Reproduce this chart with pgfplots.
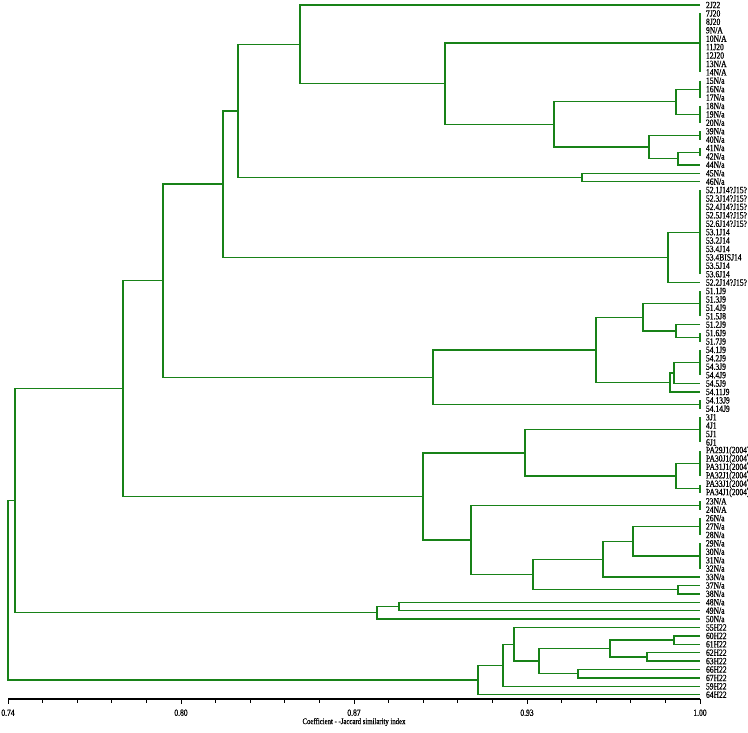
\documentclass[border=0pt]{standalone}
\usepackage{fontspec}
\setmainfont{Liberation Serif}
\newfontfamily\labfont[FakeStretch=0.8,FakeBold=0.8]{Liberation Serif}
\usepackage{pgfplots}
\pgfplotsset{compat=1.18}
\definecolor{dg}{RGB}{24,130,24}
\begin{document}
\begin{tikzpicture}
\begin{axis}[
  at={(0,0)}, anchor=south west,
  scale only axis, width=692bp, height=699bp,
  xmin=0.74, xmax=1.00, ymin=-82.5, ymax=0.6,
  clip=false,
  axis x line*=bottom, axis y line*=right,
  x axis line style={line width=1.2bp},
  y axis line style={draw=none},
  xtick={0.74,0.805,0.87,0.935,1.00},
  xticklabels={0.74,0.80,0.87,0.93,1.00},
  minor x tick num=4,
  tick align=outside,
  major tick length=5bp, minor tick length=4bp,
  x tick style={black, line width=1bp},
  xticklabel style={font=\labfont\fontsize{9.5}{9.5}\selectfont, yshift=-2bp},
  ytick={-82,-81,...,0},
  ytick style={draw=none},
  yticklabel pos=right,
  yticklabel style={font=\labfont\fontsize{9.5}{9.5}\selectfont, inner sep=0.8bp, anchor=west},
  yticklabels={64H22,59H22,67H22,66H22,63H22,62H22,61H22,60H22,55H22,50N/a,49N/a,48N/a,38N/a,37N/a,33N/a,32N/a,31N/a,30N/a,29N/a,28N/a,27N/a,26N/a,24N/A,23N/A,PA34J1(2004),PA33J1(2004),PA32J1(2004),PA31J1(2004),PA30J1(2004),PA29J1(2004),6J1,5J1,4J1,3J1,54.14J9,54.13J9,54.11J9,54.5J9,54.4J9,54.3J9,54.2J9,54.1J9,51.7J9,51.6J9,51.2J9,51.5J8,51.4J9,51.3J9,51.1J9,52.2J14?J15?,53.6J14,53.5J14,53.4BISJ14,53.4J14,53.2J14,53.1J14,52.6J14?J15?,52.5J14?J15?,52.4J14?J15?,52.3J14?J15?,52.1J14?J15?,46N/a,45N/a,44N/a,42N/a,41N/a,40N/a,39N/a,20N/a,19N/a,18N/a,17N/a,16N/a,15N/a,14N/A,13N/A,12J20,11J20,10N/A,9N/A,8J20,7J20,2J22},
  xlabel={Coefficient - -Jaccard similarity index},
  xlabel style={font=\labfont\fontsize{8.5}{9}\selectfont, at={(rel axis cs:0.5,0)}, anchor=center, yshift=-23bp},
  tree/.style={draw=dg, line width=1.3bp, mark=none},
]
% groups identical at 1.00
\addplot[tree] coordinates {(1,-1)(1,-8)};
\addplot[tree] coordinates {(1,-9)(1,-11)};
\addplot[tree] coordinates {(1,-12)(1,-14)};
\addplot[tree] coordinates {(1,-15)(1,-16)};
\addplot[tree] coordinates {(1,-17)(1,-18)};
\addplot[tree] coordinates {(1,-22)(1,-32)};
\addplot[tree] coordinates {(1,-34)(1,-37)};
\addplot[tree] coordinates {(1,-39)(1,-40)};
\addplot[tree] coordinates {(1,-41)(1,-44)};
\addplot[tree] coordinates {(1,-47)(1,-48)};
\addplot[tree] coordinates {(1,-49)(1,-52)};
\addplot[tree] coordinates {(1,-53)(1,-56)};
\addplot[tree] coordinates {(1,-57)(1,-58)};
\addplot[tree] coordinates {(1,-59)(1,-60)};
\addplot[tree] coordinates {(1,-61)(1,-63)};
\addplot[tree] coordinates {(1,-64)(1,-67)};
% internal nodes
\addplot[tree] coordinates {(1,-10)(0.9910,-10)(0.9910,-13)(1,-13)};
\addplot[tree] coordinates {(1,-17.5)(0.9917,-17.5)(0.9917,-19)(1,-19)};
\addplot[tree] coordinates {(1,-15.5)(0.9808,-15.5)(0.9808,-18.25)(0.9917,-18.25)};
\addplot[tree] coordinates {(0.9910,-11.5)(0.9451,-11.5)(0.9451,-16.875)(0.9808,-16.875)};
\addplot[tree] coordinates {(1,-4.5)(0.9042,-4.5)(0.9042,-14.19)(0.9451,-14.19)};
\addplot[tree] coordinates {(1,0)(0.8497,0)(0.8497,-9.34)(0.9042,-9.34)};
\addplot[tree] coordinates {(1,-20)(0.9557,-20)(0.9557,-21)(1,-21)};
\addplot[tree] coordinates {(0.8497,-4.67)(0.8264,-4.67)(0.8264,-20.5)(0.9557,-20.5)};
\addplot[tree] coordinates {(1,-27)(0.9880,-27)(0.9880,-33)(1,-33)};
\addplot[tree] coordinates {(0.8264,-12.59)(0.8208,-12.59)(0.8208,-30)(0.9880,-30)};
\addplot[tree] coordinates {(1,-38)(0.9910,-38)(0.9910,-39.5)(1,-39.5)};
\addplot[tree] coordinates {(1,-35.5)(0.9786,-35.5)(0.9786,-38.75)(0.9910,-38.75)};
\addplot[tree] coordinates {(1,-42.5)(0.9902,-42.5)(0.9902,-45)(1,-45)};
\addplot[tree] coordinates {(0.9902,-43.75)(0.9887,-43.75)(0.9887,-46)(1,-46)};
\addplot[tree] coordinates {(0.9786,-37.125)(0.9609,-37.125)(0.9609,-44.875)(0.9887,-44.875)};
\addplot[tree] coordinates {(0.9609,-41)(0.8997,-41)(0.8997,-47.5)(1,-47.5)};
\addplot[tree] coordinates {(0.8208,-21.29)(0.7982,-21.29)(0.7982,-44.25)(0.8997,-44.25)};
\addplot[tree] coordinates {(1,-54.5)(0.9910,-54.5)(0.9910,-57.5)(1,-57.5)};
\addplot[tree] coordinates {(1,-50.5)(0.9343,-50.5)(0.9343,-56)(0.9910,-56)};
\addplot[tree] coordinates {(1,-62)(0.9748,-62)(0.9748,-65.5)(1,-65.5)};
\addplot[tree] coordinates {(0.9748,-63.75)(0.9636,-63.75)(0.9636,-68)(1,-68)};
\addplot[tree] coordinates {(1,-69)(0.9917,-69)(0.9917,-70)(1,-70)};
\addplot[tree] coordinates {(0.9636,-65.875)(0.9373,-65.875)(0.9373,-69.5)(0.9917,-69.5)};
\addplot[tree] coordinates {(1,-59.5)(0.9140,-59.5)(0.9140,-67.69)(0.9373,-67.69)};
\addplot[tree] coordinates {(0.9343,-53.25)(0.8959,-53.25)(0.8959,-63.59)(0.9140,-63.59)};
\addplot[tree] coordinates {(0.7982,-32.77)(0.7832,-32.77)(0.7832,-58.42)(0.8959,-58.42)};
\addplot[tree] coordinates {(1,-71)(0.8869,-71)(0.8869,-72)(1,-72)};
\addplot[tree] coordinates {(0.8869,-71.5)(0.8786,-71.5)(0.8786,-73)(1,-73)};
\addplot[tree] coordinates {(0.7832,-45.6)(0.7426,-45.6)(0.7426,-72.25)(0.8786,-72.25)};
\addplot[tree] coordinates {(1,-75)(0.9902,-75)(0.9902,-76)(1,-76)};
\addplot[tree] coordinates {(1,-77)(0.9801,-77)(0.9801,-78)(1,-78)};
\addplot[tree] coordinates {(0.9902,-75.5)(0.9662,-75.5)(0.9662,-77.5)(0.9801,-77.5)};
\addplot[tree] coordinates {(1,-79)(0.9542,-79)(0.9542,-80)(1,-80)};
\addplot[tree] coordinates {(0.9662,-76.5)(0.9395,-76.5)(0.9395,-79.5)(0.9542,-79.5)};
\addplot[tree] coordinates {(1,-74)(0.9301,-74)(0.9301,-78)(0.9395,-78)};
\addplot[tree] coordinates {(0.9301,-76)(0.9260,-76)(0.9260,-81)(1,-81)};
\addplot[tree] coordinates {(0.9260,-78.5)(0.9166,-78.5)(0.9166,-82)(1,-82)};
\addplot[tree] coordinates {(0.7426,-58.92)(0.74,-58.92)(0.74,-80.25)(0.9166,-80.25)};
\end{axis}
\pgfresetboundingbox
\path[use as bounding box] (-8bp,-34bp) rectangle (740bp,699bp);
\end{tikzpicture}
\end{document}
